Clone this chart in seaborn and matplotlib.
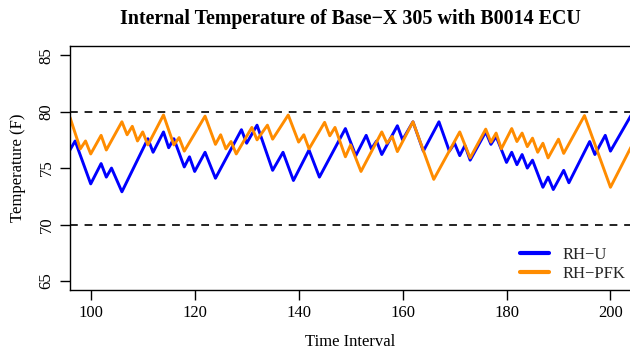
import matplotlib
matplotlib.use("Agg")
import matplotlib.pyplot as plt
import pandas as pd
import seaborn as sns
from matplotlib.lines import Line2D

# turning points (time step, temperature in F)
u_time = [96, 97, 100, 102, 103, 104, 106, 111, 112, 114, 115, 116, 118, 119, 120,
          122, 124, 129, 130, 132, 135, 137, 139, 142, 144, 149, 151, 153, 154, 155,
          156, 159, 160, 162, 164, 167, 169, 170, 171, 172, 173, 176, 177, 178, 180,
          181, 182, 183, 184, 185, 187, 188, 189, 191, 192, 196, 197, 199, 200, 204]
u_temp = [76.6, 77.4, 73.6, 75.4, 74.2, 75.0, 72.9, 77.6, 76.4, 78.2, 76.8, 77.6, 75.1, 76.0, 74.7,
          76.4, 74.1, 78.4, 77.2, 78.8, 74.8, 76.4, 73.9, 76.6, 74.2, 78.5, 76.1, 77.9, 76.7, 77.4,
          76.2, 78.75, 77.5, 79.1, 76.5, 79.1, 76.5, 77.2, 76.1, 77.0, 75.7, 78.2, 77.1, 77.8, 75.5,
          76.4, 75.3, 76.2, 75.0, 75.7, 73.3, 74.2, 73.1, 74.8, 73.7, 77.35, 76.2, 77.9, 76.5, 79.7]

pfk_time = [96, 98, 99, 100, 102, 103, 106, 107, 108, 109, 110, 111, 114, 116, 117,
            118, 122, 124, 125, 126, 127, 128, 131, 132, 134, 135, 138, 140, 141, 142,
            145, 146, 147, 149, 150, 152, 156, 157, 158, 159, 162, 166, 171, 173, 176,
            177, 178, 179, 181, 182, 183, 184, 185, 186, 187, 188, 190, 191, 195, 200, 204]
pfk_temp = [79.5, 76.7, 77.4, 76.25, 77.9, 76.6, 79.1, 77.95, 78.7, 77.4, 78.2, 77.05, 79.7, 77.05, 77.7,
            76.5, 79.6, 77.1, 77.95, 76.7, 77.35, 76.25, 78.6, 77.5, 78.8, 77.56, 79.7, 77.3, 77.95, 76.7,
            79.05, 77.86, 78.6, 76.0, 77.05, 74.7, 78.2, 77.2, 77.8, 76.46, 79.1, 74.0, 78.2, 75.9, 78.45,
            77.3, 78.1, 76.7, 78.5, 77.35, 78.1, 76.9, 77.65, 76.4, 77.2, 75.9, 77.56, 76.3, 79.65, 73.3, 76.9]

series = ["RH\u2212U", "RH\u2212PFK"]
colors = ["#0000FF", "#FF8C00"]
limits = [70, 80]
x_ticks = [100, 120, 140, 160, 180, 200]
y_ticks = [65, 70, 75, 80, 85]

df = pd.concat([
    pd.DataFrame({"Time": u_time, "Temp": u_temp, "Sensor": series[0]}),
    pd.DataFrame({"Time": pfk_time, "Temp": pfk_temp, "Sensor": series[1]}),
])

sns.set_theme(style="ticks")
plt.rcParams["font.family"] = ["Liberation Serif", "DejaVu Serif"]
plt.rcParams["axes.unicode_minus"] = True

fig = plt.figure(figsize=(6.3, 3.52), dpi=100)
ax = fig.add_axes([0.111, 0.176, 0.891, 0.693])

sns.lineplot(data=df, x="Time", y="Temp", hue="Sensor", palette=dict(zip(series, colors)),
             estimator=None, sort=True, lw=2.1, legend=False, ax=ax)
for lim in limits:
    ax.axhline(lim, color="#222222", lw=1.4, ls=(0, (4, 3.5)), zorder=1)

ax.set_xlim(96, 204)
ax.set_ylim(64.2, 85.8)
ax.set_xticks(x_ticks)
ax.set_yticks(y_ticks)
ax.tick_params(axis="both", direction="out", length=7, width=1, color="black",
               labelsize=12, labelcolor="black", pad=4)
plt.setp(ax.get_yticklabels(), rotation=90, va="center")
for side in ["left", "bottom", "top", "right"]:
    ax.spines[side].set_color("black")
    ax.spines[side].set_linewidth(1)

ax.set_xlabel("Time Interval", fontsize=12, color="black", labelpad=9)
ax.set_ylabel("Temperature (F)", fontsize=12, color="black", labelpad=9)
ax.set_title("Internal Temperature of Base\u2212X 305 with B0014 ECU",
             fontsize=14.4, fontweight="bold", color="black", pad=16)

handles = [Line2D([], [], color=c, lw=3) for c in colors]
ax.legend(handles, series, loc="lower right", bbox_to_anchor=(0.989, 0.035), frameon=False,
          fontsize=12, handlelength=1.75, handletextpad=0.8, labelspacing=0.15,
          borderpad=0, borderaxespad=0)

fig.savefig("out.png", dpi=100)
